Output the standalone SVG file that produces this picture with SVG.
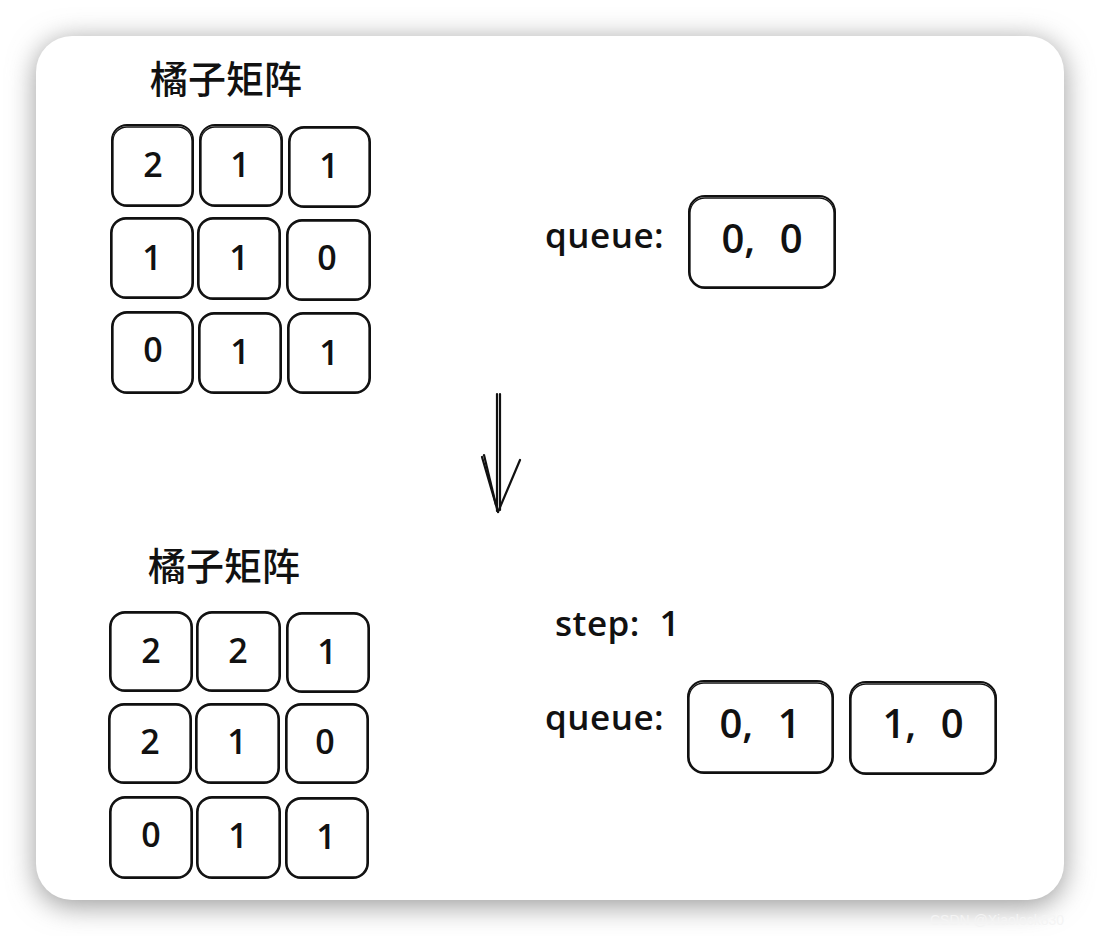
<svg xmlns="http://www.w3.org/2000/svg" width="1100" height="936" viewBox="0 0 1100 936">
<defs>
<filter id="sh" x="-10%" y="-10%" width="120%" height="120%"><feGaussianBlur stdDeviation="14"/></filter>
<style>
.box{fill:#fff;stroke:#111;stroke-width:2}
.box2{fill:none;stroke:#111;stroke-width:1.3}
.num{font-family:"Open Sans","Liberation Sans",sans-serif;font-size:34px;font-weight:600;text-anchor:middle;fill:#111}
.qn{font-size:40px;word-spacing:14px}
.lbl{font-family:"Open Sans","Liberation Sans",sans-serif;font-size:35px;font-weight:600;fill:#111;letter-spacing:0.5px}
.title{font-family:"Noto Sans CJK SC","Noto Sans",sans-serif;font-size:38px;font-weight:500;fill:#111}
.ar{stroke:#111;stroke-width:2.2;fill:none;stroke-linecap:round}
</style>
</defs>
<rect width="1100" height="936" fill="#ffffff"/>
<rect x="36" y="40" width="1028" height="866" rx="36" fill="#9a9a9a" filter="url(#sh)"/>
<rect x="36" y="36" width="1028" height="864" rx="36" fill="#fff"/>
<text x="930" y="925" font-family="Liberation Sans,sans-serif" font-size="14" fill="#f4f4f4">CSDN @Xiaolock830</text>

<g id="top-matrix">
<text class="title" x="150" y="93">橘子矩阵</text>
<g id="t00"><rect class="box" x="112" y="125" width="81" height="81" rx="15"/><rect class="box2" x="113" y="127" width="79" height="78" rx="14"/><text class="num" x="153" y="177">2</text></g>
<g id="t01"><rect class="box" x="200" y="125" width="82" height="81" rx="15"/><rect class="box2" x="201" y="127" width="80" height="78" rx="14"/><text class="num" x="240" y="177">1</text></g>
<g id="t02"><rect class="box" x="289" y="127" width="81" height="80" rx="15"/><rect class="box2" x="290" y="128" width="79" height="78" rx="14"/><text class="num" x="329" y="178">1</text></g>
<g id="t10"><rect class="box" x="111" y="218" width="82" height="80" rx="15"/><rect class="box2" x="112" y="219" width="80" height="78" rx="14"/><text class="num" x="152" y="270">1</text></g>
<g id="t11"><rect class="box" x="198" y="218" width="82" height="81" rx="15"/><rect class="box2" x="199" y="219" width="80" height="79" rx="14"/><text class="num" x="239" y="270">1</text></g>
<g id="t12"><rect class="box" x="287" y="220" width="83" height="80" rx="15"/><rect class="box2" x="288" y="221" width="81" height="78" rx="14"/><text class="num" x="327" y="270">0</text></g>
<g id="t20"><rect class="box" x="112" y="312" width="81" height="81" rx="15"/><rect class="box2" x="113" y="313" width="79" height="79" rx="14"/><text class="num" x="153" y="362">0</text></g>
<g id="t21"><rect class="box" x="199" y="313" width="82" height="80" rx="15"/><rect class="box2" x="200" y="314" width="80" height="78" rx="14"/><text class="num" x="240" y="364">1</text></g>
<g id="t22"><rect class="box" x="288" y="313" width="82" height="80" rx="15"/><rect class="box2" x="289" y="314" width="80" height="78" rx="14"/><text class="num" x="329" y="365">1</text></g>
</g>

<g id="top-queue">
<text class="lbl" x="545" y="248">queue:</text>
<g id="q-00"><rect class="box" x="689" y="196" width="146" height="92" rx="16"/><rect class="box2" x="690" y="198" width="144" height="89" rx="15"/><text class="num qn" x="762" y="253">0, 0</text></g>
</g>

<g id="connectors">
<line class="ar" x1="497" y1="394" x2="497" y2="511"/>
<line class="ar" x1="500" y1="394" x2="500" y2="510"/>
<line class="ar" x1="482" y1="457" x2="498" y2="512"/>
<line class="ar" x1="484" y1="455" x2="496" y2="505"/>
<line class="ar" x1="520" y1="460" x2="498" y2="512"/>
</g>

<g id="bottom-matrix">
<text class="title" x="148" y="580">橘子矩阵</text>
<g id="b00"><rect class="box" x="110" y="612" width="82" height="79" rx="15"/><rect class="box2" x="111" y="613" width="80" height="77" rx="14"/><text class="num" x="151" y="663">2</text></g>
<g id="b01"><rect class="box" x="197" y="612" width="83" height="79" rx="15"/><rect class="box2" x="198" y="613" width="81" height="77" rx="14"/><text class="num" x="238" y="663">2</text></g>
<g id="b02"><rect class="box" x="287" y="613" width="82" height="79" rx="15"/><rect class="box2" x="288" y="614" width="80" height="77" rx="14"/><text class="num" x="327" y="664">1</text></g>
<g id="b10"><rect class="box" x="109" y="704" width="82" height="79" rx="15"/><rect class="box2" x="110" y="705" width="80" height="77" rx="14"/><text class="num" x="150" y="754">2</text></g>
<g id="b11"><rect class="box" x="196" y="704" width="83" height="79" rx="15"/><rect class="box2" x="197" y="705" width="81" height="77" rx="14"/><text class="num" x="237" y="754">1</text></g>
<g id="b12"><rect class="box" x="286" y="704" width="82" height="79" rx="15"/><rect class="box2" x="287" y="705" width="80" height="77" rx="14"/><text class="num" x="325" y="754">0</text></g>
<g id="b20"><rect class="box" x="110" y="797" width="82" height="81" rx="15"/><rect class="box2" x="111" y="798" width="80" height="79" rx="14"/><text class="num" x="151" y="847">0</text></g>
<g id="b21"><rect class="box" x="197" y="797" width="83" height="81" rx="15"/><rect class="box2" x="198" y="798" width="81" height="79" rx="14"/><text class="num" x="238" y="848">1</text></g>
<g id="b22"><rect class="box" x="286" y="798" width="82" height="80" rx="15"/><rect class="box2" x="287" y="799" width="80" height="78" rx="14"/><text class="num" x="326" y="849">1</text></g>
</g>

<g id="bottom-queue">
<text class="lbl" x="555" y="636" word-spacing="10">step: 1</text>
<text class="lbl" x="545" y="730">queue:</text>
<g id="q-01"><rect class="box" x="688" y="681" width="145" height="92" rx="16"/><rect class="box2" x="689" y="683" width="143" height="89" rx="15"/><text class="num qn" x="760" y="738">0, 1</text></g>
<g id="q-10"><rect class="box" x="850" y="682" width="146" height="92" rx="16"/><rect class="box2" x="851" y="684" width="144" height="89" rx="15"/><text class="num qn" x="923" y="738">1, 0</text></g>
</g>
</svg>
